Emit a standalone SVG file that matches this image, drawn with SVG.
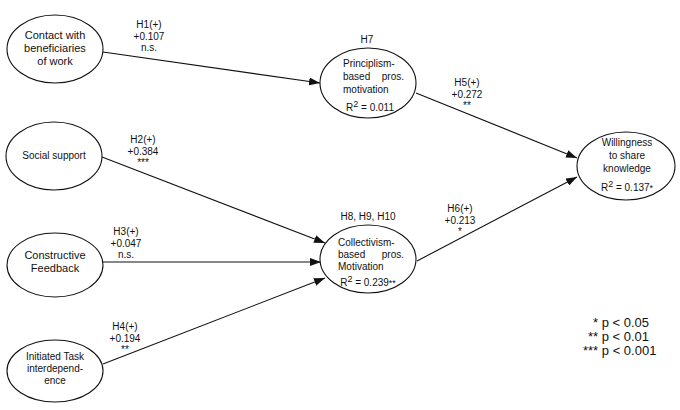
<svg xmlns="http://www.w3.org/2000/svg" width="680" height="410" viewBox="0 0 680 410">
<style>
text{font-family:"Liberation Sans",Arial,sans-serif;font-size:10px;fill:#111}
.n ellipse{fill:#fff;stroke:#111;stroke-width:1.1}
.big{font-size:11px}
.c{text-anchor:middle}
.e{text-anchor:end}
.lg{font-size:13px}
#edges line{stroke:#111;stroke-width:1.1}
</style>
<defs>
<marker id="ah" markerUnits="userSpaceOnUse" markerWidth="11" markerHeight="8" refX="11" refY="4" orient="auto">
<path d="M0,0 L11,4 L0,8 z" fill="#111"/>
</marker>
</defs>
<rect width="680" height="410" fill="#fff"/>
<g id="edges">
<line x1="103" y1="52" x2="320" y2="83" marker-end="url(#ah)"/>
<line x1="102" y1="157" x2="325" y2="243" marker-end="url(#ah)"/>
<line x1="103" y1="262" x2="321" y2="262" marker-end="url(#ah)"/>
<line x1="103" y1="364" x2="325" y2="278" marker-end="url(#ah)"/>
<line x1="416" y1="93" x2="577" y2="158" marker-end="url(#ah)"/>
<line x1="417" y1="261" x2="577" y2="177" marker-end="url(#ah)"/>
</g>
<g id="edge-labels">
<text class="c" x="149" y="28">H1(+)</text>
<text class="c" x="149" y="39.5">+0.107</text>
<text class="c" x="149" y="51">n.s.</text>
<text class="c" x="143" y="143">H2(+)</text>
<text class="c" x="143" y="154.5">+0.384</text>
<text class="c" x="143" y="166">***</text>
<text class="c" x="126" y="235">H3(+)</text>
<text class="c" x="126" y="246.5">+0.047</text>
<text class="c" x="126" y="258">n.s.</text>
<text class="c" x="125" y="330">H4(+)</text>
<text class="c" x="125" y="341.5">+0.194</text>
<text class="c" x="125" y="353">**</text>
<text class="c" x="467" y="86">H5(+)</text>
<text class="c" x="467" y="97.5">+0.272</text>
<text class="c" x="467" y="109">**</text>
<text class="c" x="460" y="212">H6(+)</text>
<text class="c" x="460" y="223.5">+0.213</text>
<text class="c" x="460" y="235">*</text>
<text class="c" x="367" y="43">H7</text>
<text class="c" x="368" y="220">H8, H9, H10</text>
</g>
<g id="n1" class="n">
<ellipse cx="55" cy="49" rx="48" ry="34"/>
<text class="c big" x="55" y="39">Contact with</text>
<text class="c big" x="55" y="52">beneficiaries</text>
<text class="c big" x="55" y="65">of work</text>
</g>
<g id="n2" class="n">
<ellipse cx="54" cy="156" rx="48" ry="34"/>
<text class="c" x="54" y="159">Social support</text>
</g>
<g id="n3" class="n">
<ellipse cx="55" cy="265" rx="48" ry="32"/>
<text class="c big" x="55" y="259">Constructive</text>
<text class="c big" x="55" y="272">Feedback</text>
</g>
<g id="n4" class="n">
<ellipse cx="55" cy="371" rx="48" ry="31"/>
<text class="c" x="55" y="360">Initiated Task</text>
<text class="c" x="55" y="372">interdepend-</text>
<text class="c" x="55" y="384">ence</text>
</g>
<g id="n5" class="n">
<ellipse cx="368" cy="83" rx="48" ry="35"/>
<text x="343" y="67">Principlism-</text>
<text x="343" y="80">based</text>
<text class="e" x="404" y="80">pros.</text>
<text x="343" y="93">motivation</text>
<text class="c" x="370" y="111">R<tspan font-size="9" dy="-4">2</tspan><tspan dy="4"> = 0.011</tspan></text>
</g>
<g id="n6" class="n">
<ellipse cx="368" cy="259" rx="48" ry="34"/>
<text x="338" y="246">Collectivism-</text>
<text x="338" y="258">based</text>
<text class="e" x="404" y="258">pros.</text>
<text x="338" y="270">Motivation</text>
<text class="c" x="368" y="286">R<tspan font-size="9" dy="-4">2</tspan><tspan dy="4"> = 0.239</tspan><tspan font-size="9">**</tspan></text>
</g>
<g id="n7" class="n">
<ellipse cx="626" cy="166" rx="49" ry="34"/>
<text class="c" x="627" y="146">Willingness</text>
<text class="c" x="627" y="159">to share</text>
<text class="c" x="627" y="172">knowledge</text>
<text class="c" x="627" y="191">R<tspan font-size="9" dy="-4">2</tspan><tspan dy="4"> = 0.137</tspan><tspan font-size="9">*</tspan></text>
</g>
<g id="legend">
<text class="lg" x="593" y="327">* p &lt; 0.05</text>
<text class="lg" x="588" y="341">** p &lt; 0.01</text>
<text class="lg" x="583" y="355">*** p &lt; 0.001</text>
</g>
</svg>
